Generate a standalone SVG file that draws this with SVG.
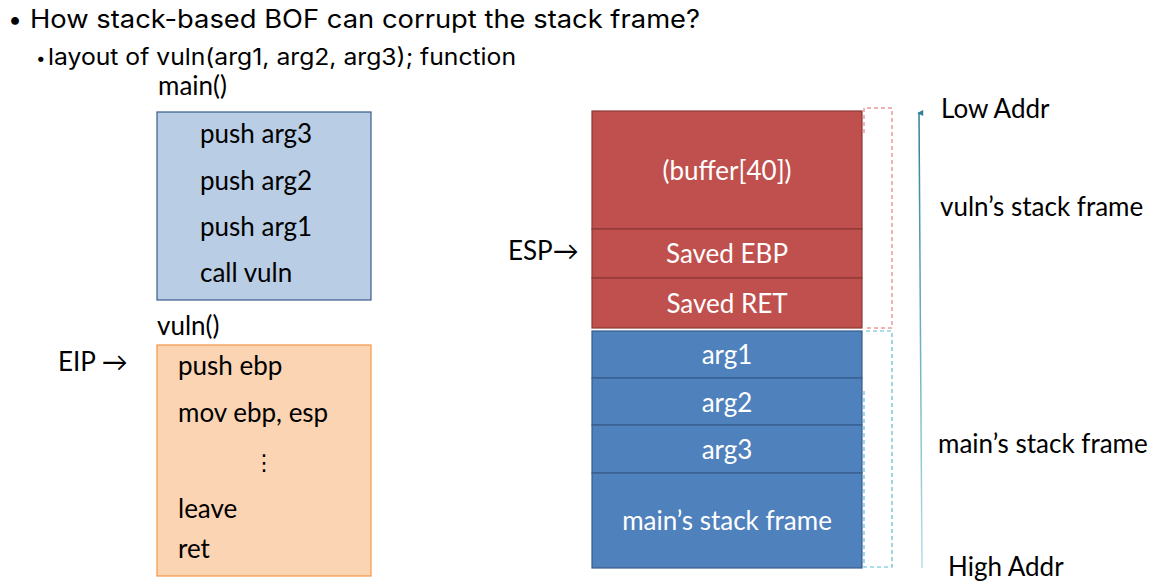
<svg xmlns="http://www.w3.org/2000/svg" width="1167" height="584" viewBox="0 0 1167 584">
<defs>
<linearGradient id="axisGrad" gradientUnits="userSpaceOnUse" x1="0" y1="112" x2="0" y2="568">
<stop offset="0" stop-color="#2e7f96"/>
<stop offset="1" stop-color="#b4dfec"/>
</linearGradient>
<marker id="ah" viewBox="0 0 10 10" refX="5" refY="3" markerWidth="6" markerHeight="7" orient="auto-start-reverse" markerUnits="userSpaceOnUse">
<path d="M0,10 L5,0 L10,10 Z" fill="#2e7f96"/>
</marker>
</defs>
<style>
.hdr{font-family:Inter,"Noto Sans","Liberation Sans",sans-serif;fill:#000}
.t{font-family:Lato,"Liberation Sans",sans-serif;font-size:26px;fill:#000}
.w{font-family:Lato,"Liberation Sans",sans-serif;font-size:26px;fill:#fff;text-anchor:middle}
.red{fill:#c0504d;stroke:#8c3836;stroke-width:1.2}
.blue{fill:#4f81bd;stroke:#385d8a;stroke-width:1.2}
</style>
<rect width="1167" height="584" fill="#fff"/>
<g id="header">
<text class="hdr" x="8" y="28" font-size="25">•</text>
<text class="hdr" x="30" y="28" font-size="25" textLength="670" lengthAdjust="spacingAndGlyphs">How stack-based BOF can corrupt the stack frame?</text>
<text class="hdr" x="36" y="64" font-size="17">•</text>
<text class="hdr" x="48" y="65" font-size="23" textLength="468" lengthAdjust="spacingAndGlyphs">layout of vuln(arg1, arg2, arg3); function</text>
</g>
<g id="main-code">
<text class="t" x="158" y="95">main()</text>
<rect x="157" y="112" width="214" height="188" fill="#b9cde5" stroke="#385d8a" stroke-width="1.2"/>
<text class="t" x="200" y="143">push arg3</text>
<text class="t" x="200" y="190">push arg2</text>
<text class="t" x="200" y="236">push arg1</text>
<text class="t" x="200" y="282">call vuln</text>
</g>
<g id="vuln-code">
<text class="t" x="157" y="335">vuln()</text>
<text class="t" x="58" y="371">EIP →</text>
<rect x="157" y="345" width="214" height="231" fill="#fbd4b4" stroke="#f79646" stroke-width="1.2"/>
<text class="t" x="178" y="375">push ebp</text>
<text class="t" x="178" y="422">mov ebp, esp</text>
<text x="264" y="470" font-family="DejaVu Sans,sans-serif" font-size="22" text-anchor="middle" fill="#000">⋮</text>
<text class="t" x="178" y="518">leave</text>
<text class="t" x="178" y="558">ret</text>
</g>
<g id="vuln-frame">
<rect class="red" x="592" y="111" width="270" height="118"/>
<rect class="red" x="592" y="229" width="270" height="49"/>
<rect class="red" x="592" y="278" width="270" height="50"/>
<text class="w" x="727" y="180">(buffer[40])</text>
<text class="w" x="727" y="263">Saved EBP</text>
<text class="w" x="727" y="313">Saved RET</text>
</g>
<g id="main-frame">
<rect class="blue" x="592" y="331" width="270" height="47"/>
<rect class="blue" x="592" y="378" width="270" height="47"/>
<rect class="blue" x="592" y="425" width="270" height="48"/>
<rect class="blue" x="592" y="473" width="270" height="95"/>
<text class="w" x="727" y="364">arg1</text>
<text class="w" x="727" y="412">arg2</text>
<text class="w" x="727" y="459">arg3</text>
<text class="w" x="727" y="530">main’s stack frame</text>
</g>
<g id="esp-label">
<text class="t" x="508" y="260">ESP→</text>
</g>
<g id="connectors">
<path d="M864,133 V108 H892 V328 H864" fill="none" stroke="#e06666" stroke-width="1" stroke-dasharray="4,3"/>
<path d="M864,391 V567 H892 V331 H864" fill="none" stroke="#5bbcd6" stroke-width="1.2" stroke-dasharray="4,3"/>
<line x1="922" y1="568" x2="919" y2="113" stroke="url(#axisGrad)" stroke-width="1.5" marker-end="url(#ah)"/>
</g>
<g id="axis-labels">
<text class="t" x="941" y="118">Low Addr</text>
<text class="t" x="940" y="216">vuln’s stack frame</text>
<text class="t" x="938" y="453">main’s stack frame</text>
<text class="t" x="948" y="576">High Addr</text>
</g>
</svg>
